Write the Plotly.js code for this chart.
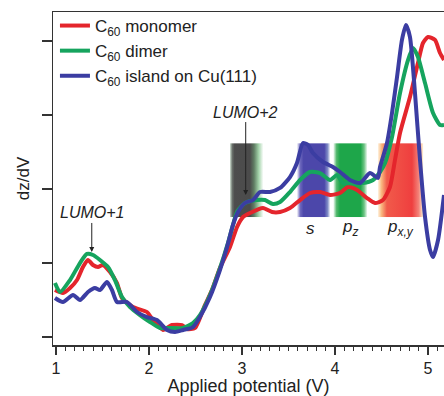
<!DOCTYPE html>
<html>
<head>
<meta charset="utf-8">
<script src="https://cdn.plot.ly/plotly-3.0.1.min.js"></script>
<style>html,body{margin:0;padding:0;background:#fff;}#chart{width:444px;height:396px;}</style>
</head>
<body>
<div id="chart"></div>
<script>
// ---- data ----
const seriesNames = ['C<sub>60</sub> monomer', 'C<sub>60</sub> dimer', 'C<sub>60</sub> island on Cu(111)'];

const monomerV = [0.989,1.075,1.151,1.226,1.290,1.344,1.398,1.452,1.505,1.581,1.656,1.710,1.828,1.978,2.043,2.151,2.247,2.355,2.409,2.495,2.602,2.677,2.763,2.871,2.946,3.011,3.086,3.226,3.323,3.409,3.516,3.624,3.731,3.839,3.946,4.054,4.140,4.237,4.344,4.430,4.516,4.591,4.645,4.699,4.806,4.892,4.946,5.000,5.075,5.129,5.172];
const monomerS = [0.635,0.595,0.662,0.770,0.946,1.041,0.973,0.946,0.973,0.878,0.730,0.527,0.405,0.338,0.230,0.095,0.162,0.162,0.108,0.122,0.432,0.635,0.932,1.216,1.486,1.622,1.676,1.743,1.689,1.689,1.743,1.851,1.946,1.959,1.919,1.946,2.027,1.986,1.878,1.811,1.851,2.027,2.392,2.757,3.243,3.703,3.973,4.054,4.014,3.838,3.743];

const dimerV = [0.989,1.043,1.151,1.258,1.333,1.398,1.473,1.559,1.634,1.710,1.796,1.903,2.011,2.118,2.226,2.366,2.473,2.548,2.656,2.763,2.849,2.903,2.946,3.032,3.161,3.247,3.333,3.409,3.516,3.624,3.731,3.839,3.946,4.022,4.086,4.194,4.301,4.409,4.484,4.538,4.613,4.699,4.785,4.839,4.892,4.968,5.054,5.129,5.172];
const dimerS = [0.730,0.608,0.770,1.000,1.122,1.108,1.041,0.946,0.770,0.541,0.405,0.297,0.203,0.122,0.122,0.122,0.189,0.297,0.568,0.932,1.270,1.514,1.689,1.811,1.851,1.851,1.797,1.824,1.959,2.122,2.230,2.216,2.122,2.189,2.081,2.081,2.081,2.122,2.230,2.351,2.703,3.297,3.743,3.905,3.784,3.432,3.027,2.865,2.865];

const islandV = [0.989,1.075,1.183,1.258,1.344,1.419,1.473,1.548,1.602,1.656,1.763,1.871,1.978,2.086,2.194,2.280,2.366,2.473,2.548,2.656,2.763,2.839,2.903,2.957,3.032,3.118,3.194,3.301,3.409,3.516,3.591,3.656,3.710,3.763,3.871,3.978,4.054,4.161,4.269,4.376,4.462,4.484,4.559,4.613,4.667,4.720,4.763,4.806,4.860,4.914,4.968,5.022,5.054,5.108,5.172];
const islandS = [0.527,0.473,0.568,0.500,0.608,0.662,0.635,0.743,0.635,0.473,0.473,0.338,0.270,0.230,0.095,0.068,0.095,0.135,0.270,0.541,0.905,1.216,1.514,1.689,1.811,1.851,1.959,1.959,2.014,2.162,2.351,2.622,2.595,2.486,2.365,2.297,2.230,2.122,2.081,2.216,2.149,2.297,2.622,3.027,3.514,4.014,4.216,4.054,3.297,2.392,1.622,1.176,1.081,1.311,1.919];

const xTickVals = [1, 2, 3, 4, 5];
const xTickText = ['1', '2', '3', '4', '5'];
const yTickVals = [0, 1, 2, 3, 4];

// orbital bands (x extent in V, common y extent in dz/dV units)
const bandLabels = ['', '<i>s</i>', '<i>p</i><sub><i>z</i></sub>', '<i>p</i><sub><i>x,y</i></sub>'];
const bandStart = [2.87, 3.59, 3.98, 4.46];
const bandEnd = [3.23, 3.95, 4.35, 4.95];
const bandLow = 1.62, bandHigh = 2.62;
const labelY = 1.47;

// peak annotations
const peakNames = ['<i>LUMO+1</i>', '<i>LUMO+2</i>'];
const peakV = [1.385, 3.04];
const peakTip = [1.15, 1.92];
const peakTextY = [1.676, 3.04];

// ---- styles ----
const colors = ['#e4252c', '#16a45e', '#3b3da2'];
const bandStops = [
  [[0,'#d5e6d7'],[0.07,'#6a716b'],[0.14,'#4d4d4d'],[0.6,'#4b4b4b'],[0.72,'#5f7d63'],[0.86,'#a3d3aa'],[1,'#ffffff']],
  [[0,'#ffffff'],[0.1,'#6e69bd'],[0.2,'#4c47aa'],[0.82,'#4c47aa'],[0.92,'#7f8cc6'],[1,'#ffffff']],
  [[0,'#ffffff'],[0.1,'#52b86c'],[0.2,'#1ea64a'],[0.8,'#1ea64a'],[0.9,'#6cc383'],[1,'#ffffff']],
  [[0,'#fff6e6'],[0.08,'#f9b980'],[0.2,'#f15a4a'],[0.75,'#ef3f3f'],[0.9,'#f3847a'],[1,'#fdf8d8']]
];
function gradientImage(stops){
  const st = stops.map(s=>'<stop offset="'+s[0]+'" stop-color="'+s[1]+'"/>').join('');
  const svg = '<svg xmlns="http://www.w3.org/2000/svg" width="100" height="100" preserveAspectRatio="none">'+
    '<defs><linearGradient id="g" x1="0" y1="0" x2="1" y2="0">'+st+'</linearGradient></defs>'+
    '<rect x="0" y="0" width="100" height="100" fill="url(#g)"/></svg>';
  return 'data:image/svg+xml;base64,'+btoa(svg);
}
const images = bandStart.map((s,b)=>({
  source:gradientImage(bandStops[b]), xref:'x', yref:'y', x:s, y:bandHigh,
  sizex:bandEnd[b]-s, sizey:bandHigh-bandLow, sizing:'stretch', xanchor:'left', yanchor:'top',
  layer:'below', opacity:1
}));

const FONT = 'Liberation Sans, Arial, sans-serif';
const annotations = [];
for(let b=1;b<bandLabels.length;b++){
  annotations.push({x:(bandStart[b]+bandEnd[b])/2 - (b===1?0.03:0), y:labelY, xref:'x', yref:'y', text:bandLabels[b],
    showarrow:false, font:{family:FONT, size:17, color:'#222'}});
}
for(let i=0;i<peakNames.length;i++){
  annotations.push({x:peakV[i], y:peakTip[i], ax:peakV[i], ay:peakTextY[i], xref:'x', yref:'y', axref:'x', ayref:'y',
    text:peakNames[i], showarrow:true, arrowhead:2, arrowsize:1, arrowwidth:1, arrowcolor:'#222',
    font:{family:FONT, size:16, color:'#222'}});
}

const traces = [[monomerV,monomerS],[dimerV,dimerS],[islandV,islandS]].map((d,i)=>({
  x:d[0], y:d[1], type:'scatter', mode:'lines', name:seriesNames[i],
  line:{color:colors[i], width:4, shape:'spline', smoothing:0.6}
}));

const layout = {
  width:444, height:396,
  margin:{l:53, r:0, t:12, b:51},
  paper_bgcolor:'#fff', plot_bgcolor:'rgba(0,0,0,0)',
  font:{family:FONT, color:'#222'},
  showlegend:true,
  legend:{x:0.005, y:1.012, xanchor:'left', yanchor:'top', bgcolor:'rgba(0,0,0,0)',
    font:{family:FONT, size:17, color:'#222'}, itemwidth:30, tracegroupgap:0},
  xaxis:{range:[0.968, 5.172], showgrid:false, zeroline:false, showline:true, linecolor:'#333', linewidth:1.5,
    mirror:true, ticks:'outside', ticklen:8, tickwidth:1.5, tickcolor:'#333',
    tickvals:xTickVals, ticktext:xTickText, tickfont:{family:FONT, size:16, color:'#222'},
    minor:{dtick:0.1, tick0:1, ticks:'outside', ticklen:4, tickwidth:1, tickcolor:'#333', showgrid:false},
    title:{text:'Applied potential (V)', font:{family:FONT, size:18, color:'#222'}, standoff:7}},
  yaxis:{range:[-0.108, 4.392], showgrid:false, zeroline:false, showline:true, linecolor:'#333', linewidth:1.5,
    ticks:'outside', ticklen:10, tickwidth:1.5, tickcolor:'#333', tickvals:yTickVals, showticklabels:false,
    title:{text:'dz/dV', font:{family:FONT, size:17, color:'#222'}, standoff:7}},
  images:images,
  annotations:annotations
};

Plotly.newPlot('chart', traces, layout, {displayModeBar:false, staticPlot:true});
</script>
</body>
</html>
